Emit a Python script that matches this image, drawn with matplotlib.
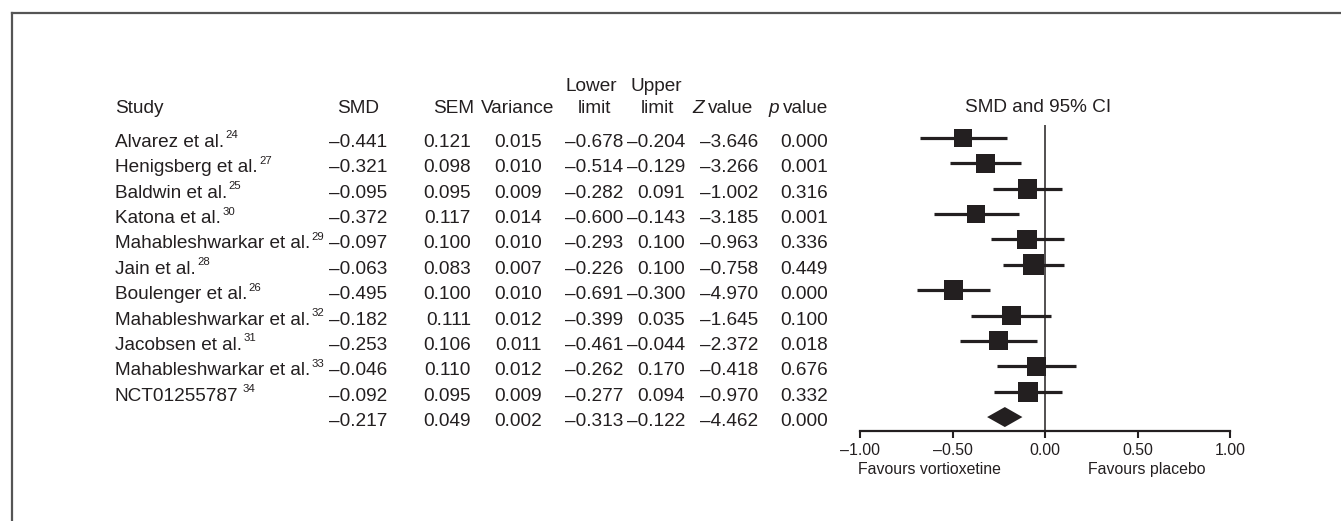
import matplotlib
matplotlib.use("Agg")
import matplotlib.pyplot as plt
from matplotlib.lines import Line2D
from matplotlib.patches import Polygon
from matplotlib.transforms import blended_transform_factory
import numpy as np

plt.rcParams['font.family'] = ['Liberation Sans', 'DejaVu Sans']

# studies and their reference numbers
studies = ["Alvarez et al.", "Henigsberg et al.", "Baldwin et al.", "Katona et al.",
           "Mahableshwarkar et al.", "Jain et al.", "Boulenger et al.",
           "Mahableshwarkar et al.", "Jacobsen et al.", "Mahableshwarkar et al.",
           "NCT01255787"]
refs = ["24", "27", "25", "30", "29", "28", "26", "32", "31", "33", "34"]

smd = [-0.441, -0.321, -0.095, -0.372, -0.097, -0.063, -0.495, -0.182, -0.253, -0.046, -0.092]
sem = [0.121, 0.098, 0.095, 0.117, 0.100, 0.083, 0.100, 0.111, 0.106, 0.110, 0.095]
variance = [0.015, 0.010, 0.009, 0.014, 0.010, 0.007, 0.010, 0.012, 0.011, 0.012, 0.009]
lower = [-0.678, -0.514, -0.282, -0.600, -0.293, -0.226, -0.691, -0.399, -0.461, -0.262, -0.277]
upper = [-0.204, -0.129, 0.091, -0.143, 0.100, 0.100, -0.300, 0.035, -0.044, 0.170, 0.094]
z_value = [-3.646, -3.266, -1.002, -3.185, -0.963, -0.758, -4.970, -1.645, -2.372, -0.418, -0.970]
p_value = [0.000, 0.001, 0.316, 0.001, 0.336, 0.449, 0.000, 0.100, 0.018, 0.676, 0.332]

# pooled estimate
pooled = {'smd': -0.217, 'sem': 0.049, 'variance': 0.002, 'lower': -0.313,
          'upper': -0.122, 'z': -4.462, 'p': 0.000}

ticks = [-1.0, -0.5, 0.0, 0.5, 1.0]

ink = '#231f20'
W, H = 1341, 521


def fmt(v):
    return f"{v:.3f}".replace("-", "\u2013")


fig = plt.figure(figsize=(W / 100, H / 100), dpi=100)

# forest plot axes (pixel layout of the reference)
ax_left, ax_right, ax_top, ax_bot = 860, 1230, 125.3, 431
ax = fig.add_axes([ax_left / W, 1 - ax_bot / H, (ax_right - ax_left) / W, (ax_bot - ax_top) / H])
n = len(studies)
rows = np.arange(n)
pool_row = n
ax.set_xlim(-1, 1)
ax.set_ylim(11.55, -0.5)
for s in ['top', 'right', 'left']:
    ax.spines[s].set_visible(False)
ax.spines['bottom'].set_linewidth(1.6)
ax.spines['bottom'].set_color(ink)
ax.set_yticks([])
ax.set_xticks(ticks)
ax.set_xticklabels([fmt(t)[:-1] for t in ticks])
ax.tick_params(axis='x', direction='out', length=5, width=1.5, pad=3.5,
               labelsize=11.4, colors=ink)
ax.patch.set_visible(False)

ax.axvline(0, color=ink, lw=1.1, zorder=1)
ax.hlines(rows, lower, upper, color=ink, lw=2.3, zorder=2)

weights = 1 / np.array(sem) ** 2
side_px = 18 * (weights / weights.min()) ** 0.2
ax.scatter(smd, rows, marker='s', s=(side_px * 0.72) ** 2, color=ink, linewidths=0, zorder=3)

half_h = 10 / 25.36
diamond = Polygon([(pooled['lower'], pool_row), (pooled['smd'], pool_row - half_h),
                   (pooled['upper'], pool_row), (pooled['smd'], pool_row + half_h)],
                  closed=True, color=ink, lw=0, zorder=3)
ax.add_patch(diamond)

# table text
tr = blended_transform_factory(fig.transFigure, ax.transData)
fs = 13.7
dy = 0.1
col_x = {'smd': 387, 'sem': 471, 'var': 542, 'lower': 623, 'upper': 685, 'z': 758, 'p': 828}

for i in range(n):
    t = ax.text(115 / W, i + dy, studies[i], transform=tr, ha='left', va='center_baseline',
                fontsize=fs, color=ink)
    off = 2.8 if studies[i].startswith("NCT") else 1.0
    ax.annotate(refs[i], xy=(1, 1), xycoords=t, xytext=(off, 2.6), textcoords='offset points',
                ha='left', va='top', fontsize=8.2, color=ink)

columns = [('smd', smd + [pooled['smd']]), ('sem', sem + [pooled['sem']]),
           ('var', variance + [pooled['variance']]), ('lower', lower + [pooled['lower']]),
           ('upper', upper + [pooled['upper']]), ('z', z_value + [pooled['z']]),
           ('p', p_value + [pooled['p']])]
for key, vals in columns:
    for i, v in enumerate(vals):
        ax.text(col_x[key] / W, i + dy, fmt(v), transform=tr, ha='right', va='center_baseline',
                fontsize=fs, color=ink)

hy = -1.26
ax.text(115 / W, hy, "Study", transform=tr, ha='left', va='center_baseline', fontsize=fs, color=ink)
ax.text(358 / W, hy, "SMD", transform=tr, ha='center', va='center_baseline', fontsize=fs, color=ink)
ax.text(454 / W, hy, "SEM", transform=tr, ha='center', va='center_baseline', fontsize=fs, color=ink)
ax.text(518 / W, hy, "Variance", transform=tr, ha='center', va='center_baseline', fontsize=fs, color=ink)
ax.text(591 / W, -2.09, "Lower", transform=tr, ha='center', va='center_baseline', fontsize=fs, color=ink)
ax.text(594 / W, hy, "limit", transform=tr, ha='center', va='center_baseline', fontsize=fs, color=ink)
ax.text(656 / W, -2.09, "Upper", transform=tr, ha='center', va='center_baseline', fontsize=fs, color=ink)
ax.text(657 / W, hy, "limit", transform=tr, ha='center', va='center_baseline', fontsize=fs, color=ink)
tz = ax.text(692 / W, hy, "Z", transform=tr, ha='left', va='center_baseline', fontsize=fs,
             color=ink, style='italic')
ax.annotate("value", xy=(1, 0), xycoords=tz, xytext=(3, 0), textcoords='offset points',
            ha='left', va='bottom', fontsize=fs, color=ink)
tp = ax.text(768 / W, hy, "p", transform=tr, ha='left', va='center_baseline', fontsize=fs,
             color=ink, style='italic')
ax.annotate("value", xy=(1, 0), xycoords=tp, xytext=(3, 0), textcoords='offset points',
            ha='left', va='bottom', fontsize=fs, color=ink)
ax.text(1038 / W, -1.30, "SMD and 95% CI", transform=tr, ha='center', va='center_baseline',
        fontsize=fs, color=ink)

ax.text(858 / W, 13.0, "Favours vortioxetine", transform=tr, ha='left', va='center_baseline',
        fontsize=11.4, color=ink)
ax.text(1147 / W, 13.0, "Favours placebo", transform=tr, ha='center', va='center_baseline',
        fontsize=11.4, color=ink)

# frame around the figure panel
fig.add_artist(Line2D([12 / W, 12 / W], [0, 1 - 13 / H], transform=fig.transFigure,
                      color='#555555', lw=1.6))
fig.add_artist(Line2D([12 / W, 1], [1 - 13 / H, 1 - 13 / H], transform=fig.transFigure,
                      color='#555555', lw=1.6))

fig.savefig("out.png", dpi=100)
